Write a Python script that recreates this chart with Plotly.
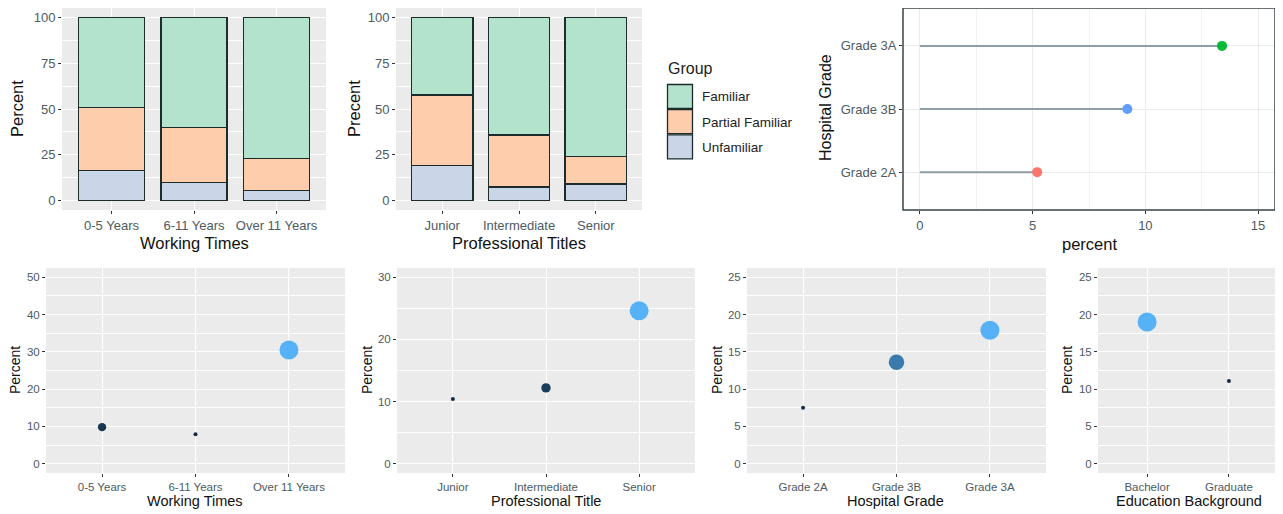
import math
import plotly.graph_objects as go

# page is photographed at 1283x514, the browser body has an 8px margin
PAGE_W, PAGE_H = 1283, 514
OFF = 8
W, H = PAGE_W - OFF, PAGE_H - OFF

# ---------------- data ----------------
work_cats = ["0-5 Years", "6-11 Years", "Over 11 Years"]
work_unfamiliar = [16.7, 10.0, 5.5]
work_partial = [34.0, 30.0, 17.5]
work_familiar = [49.3, 60.0, 77.0]

title_cats = ["Junior", "Intermediate", "Senior"]
title_unfamiliar = [19.2, 7.5, 9.1]
title_partial = [38.5, 28.4, 15.0]
title_familiar = [42.3, 64.1, 75.9]

group_names = ["Familiar", "Partial Familiar", "Unfamiliar"]

grade_cats = ["Grade 2A", "Grade 3B", "Grade 3A"]
grade_percent = [5.2, 9.2, 13.4]

bw_cats = ["0-5 Years", "6-11 Years", "Over 11 Years"]
bw_vals = [9.8, 7.9, 30.5]
bt_cats = ["Junior", "Intermediate", "Senior"]
bt_vals = [10.4, 12.2, 24.6]
bg_cats = ["Grade 2A", "Grade 3B", "Grade 3A"]
bg_vals = [7.5, 13.6, 17.9]
be_cats = ["Bachelor", "Graduate"]
be_vals = [19.0, 11.1]

# ---------------- styles ----------------
FONT = "Liberation Sans, Arial, sans-serif"
TICK_COL = "#4d5a62"
GROUP_COLORS = {"Familiar": "#B3E2CD", "Partial Familiar": "#FDCDAC", "Unfamiliar": "#CBD5E8"}
GRADE_COLORS = ["#F8766D", "#619CFF", "#00BA38"]
PANEL_BG = "#EBEBEB"


def xd(a, b):
    return [(a - OFF) / W, (b - OFF) / W]


def yd(top, bottom):
    return [1 - (bottom - OFF) / H, 1 - (top - OFF) / H]


def px(x):
    return (x - OFF) / W


def py(y):
    return 1 - (y - OFF) / H


fig = go.Figure()

# ---- top-left stacked bars ----
for name, vals in [("Unfamiliar", work_unfamiliar), ("Partial Familiar", work_partial), ("Familiar", work_familiar)]:
    fig.add_trace(go.Bar(x=work_cats, y=vals, name=name, xaxis="x", yaxis="y",
                         marker=dict(color=GROUP_COLORS[name], line=dict(color="#1c2b2b", width=1.3)),
                         showlegend=False))
# ---- top-middle stacked bars ----
for name, vals in [("Unfamiliar", title_unfamiliar), ("Partial Familiar", title_partial), ("Familiar", title_familiar)]:
    fig.add_trace(go.Bar(x=title_cats, y=vals, name=name, xaxis="x2", yaxis="y2",
                         marker=dict(color=GROUP_COLORS[name], line=dict(color="#1c2b2b", width=1.3)),
                         showlegend=False))

# ---- top-right lollipop ----
for cat, v in zip(grade_cats, grade_percent):
    fig.add_trace(go.Scatter(x=[0, v], y=[cat, cat], mode="lines", xaxis="x3", yaxis="y3",
                             line=dict(color="#8e9ea6", width=2), showlegend=False, hoverinfo="skip"))
fig.add_trace(go.Scatter(x=grade_percent, y=grade_cats, mode="markers", xaxis="x3", yaxis="y3",
                         marker=dict(color=GRADE_COLORS, size=10), showlegend=False))

# ---- bottom bubble panels ----
CSCALE = [[0, "#132B43"], [1, "#56B1F7"]]


def sizes(vals, dmin=4.0, dmax=19.0):
    lo, hi = min(vals), max(vals)
    return [dmin + (dmax - dmin) * math.sqrt((v - lo) / (hi - lo)) for v in vals]


for i, (cats, vals) in enumerate([(bw_cats, bw_vals), (bt_cats, bt_vals), (bg_cats, bg_vals), (be_cats, be_vals)]):
    k = i + 4
    fig.add_trace(go.Scatter(x=cats, y=vals, mode="markers", xaxis=f"x{k}", yaxis=f"y{k}",
                             marker=dict(size=sizes(vals), color=vals, colorscale=CSCALE,
                                         showscale=False, line=dict(width=0), opacity=1),
                             showlegend=False))

# ---------------- axes ----------------
tickfont_top = dict(family=FONT, size=13, color=TICK_COL)
tickfont_bot = dict(family=FONT, size=11.5, color=TICK_COL)


def gray_x(domain, anchor, rng, tf):
    return dict(domain=domain, anchor=anchor, type="category", range=rng, showgrid=True,
                gridcolor="white", gridwidth=1.3, ticks="outside", ticklen=3, tickcolor="#333",
                tickwidth=1, tickfont=tf, zeroline=False, showline=False, fixedrange=True)


def gray_y(domain, anchor, rng, tickvals, minor, tf):
    return dict(domain=domain, anchor=anchor, range=rng, tickvals=tickvals, showgrid=True,
                gridcolor="white", gridwidth=1.3, ticks="outside", ticklen=3, tickcolor="#333",
                tickwidth=1, tickfont=tf, zeroline=False, showline=False,
                minor=dict(dtick=minor, tick0=0, showgrid=True, gridcolor="white", gridwidth=0.6, ticks=""))


TOP_Y = yd(8, 210)
BOT_Y = yd(268, 473)

layout = dict(
    width=W, height=H, margin=dict(l=0, r=0, t=0, b=0),
    paper_bgcolor="white", plot_bgcolor="white",
    barmode="stack", bargap=0.2, showlegend=False,
    font=dict(family=FONT),
    xaxis=gray_x(xd(62, 326), "y", [-0.6, 2.6], tickfont_top),
    yaxis=gray_y(TOP_Y, "x", [-5, 105], [0, 25, 50, 75, 100], 12.5, tickfont_top),
    xaxis2=gray_x(xd(396, 642), "y2", [-0.6, 2.6], tickfont_top),
    yaxis2=gray_y(TOP_Y, "x2", [-5, 105], [0, 25, 50, 75, 100], 12.5, tickfont_top),
    xaxis3=dict(domain=xd(903, 1275), anchor="y3", range=[-0.75, 15.75], tickvals=[0, 5, 10, 15],
                showgrid=True, gridcolor="#EBEBEB", gridwidth=1, ticks="outside", ticklen=3,
                tickcolor="#333", tickfont=tickfont_top, zeroline=False, showline=False,
                minor=dict(dtick=2.5, tick0=0, showgrid=True, gridcolor="#F2F2F2", gridwidth=0.6, ticks="")),
    yaxis3=dict(domain=TOP_Y, anchor="x3", type="category", categoryorder="array",
                categoryarray=grade_cats, range=[-0.6, 2.6], showgrid=True, gridcolor="#EBEBEB",
                ticks="outside", ticklen=3, tickcolor="#333", tickfont=tickfont_top,
                zeroline=False, showline=False),
    xaxis4=gray_x(xd(46, 345), "y4", [-0.6, 2.6], tickfont_bot),
    yaxis4=gray_y(BOT_Y, "x4", [-2.5, 52.5], [0, 10, 20, 30, 40, 50], 5, tickfont_bot),
    xaxis5=gray_x(xd(397, 695), "y5", [-0.6, 2.6], tickfont_bot),
    yaxis5=gray_y(BOT_Y, "x5", [-1.5, 31.5], [0, 10, 20, 30], 5, tickfont_bot),
    xaxis6=gray_x(xd(747, 1046), "y6", [-0.6, 2.6], tickfont_bot),
    yaxis6=gray_y(BOT_Y, "x6", [-1.25, 26.25], [0, 5, 10, 15, 20, 25], 2.5, tickfont_bot),
    xaxis7=gray_x(xd(1098, 1278), "y7", [-0.6, 1.6], tickfont_bot),
    yaxis7=gray_y(BOT_Y, "x7", [-1.25, 26.25], [0, 5, 10, 15, 20, 25], 2.5, tickfont_bot),
)
fig.update_layout(**layout)

# gray panel backgrounds
shapes = []
for xr, yr in [("x", "y"), ("x2", "y2"), ("x4", "y4"), ("x5", "y5"), ("x6", "y6"), ("x7", "y7")]:
    shapes.append(dict(type="rect", xref=f"{xr} domain", yref=f"{yr} domain", x0=0, x1=1, y0=0, y1=1,
                       fillcolor=PANEL_BG, line=dict(width=0), layer="below"))
# border of the lollipop panel (theme_bw)
shapes.append(dict(type="rect", xref="x3 domain", yref="y3 domain", x0=0, x1=1, y0=0, y1=1,
                   fillcolor="rgba(0,0,0,0)", line=dict(color="#3a4448", width=1.5), layer="above"))

# manual legend
annotations = []
annotations.append(dict(text="Group", x=px(666), y=py(69), xref="paper", yref="paper",
                        xanchor="left", yanchor="middle", showarrow=False,
                        font=dict(family=FONT, size=16, color="#222")))
key_top = 84
for j, name in enumerate(group_names):
    t = key_top + j * 25.2
    shapes.append(dict(type="rect", xref="paper", yref="paper", x0=px(667.5), x1=px(692.5),
                       y0=py(t + 24.5), y1=py(t + 0.5), fillcolor=GROUP_COLORS[name],
                       line=dict(color="#1c2b2b", width=1.3)))
    annotations.append(dict(text=name, x=px(700), y=py(t + 13), xref="paper", yref="paper",
                            xanchor="left", yanchor="middle", showarrow=False,
                            font=dict(family=FONT, size=13.5, color="#222")))


# axis titles
def title(text, x, y, size, rot=0):
    annotations.append(dict(text=text, x=px(x), y=py(y), xref="paper", yref="paper",
                            xanchor="center", yanchor="middle", showarrow=False, textangle=rot,
                            font=dict(family=FONT, size=size, color="#111")))


title("Working Times", 194, 243, 16.5)
title("Percent", 17, 109, 16.5, -90)
title("Professional Titles", 519, 243, 16.5)
title("Precent", 354, 109, 16.5, -90)
title("percent", 1089, 244, 16.5)
title("Hospital Grade", 826, 108, 16, -90)

title("Working Times", 195, 501, 14.5)
title("Percent", 15, 370, 14, -90)
title("Professional Title", 546, 501, 14.5)
title("Percent", 367, 370, 14, -90)
title("Hospital Grade", 896, 501, 14.5)
title("Percent", 717, 370, 14, -90)
title("Education Background", 1189, 501, 14.5)
title("Percent", 1067, 370, 14, -90)

fig.update_layout(shapes=shapes, annotations=annotations)
fig.write_html("out.html")
